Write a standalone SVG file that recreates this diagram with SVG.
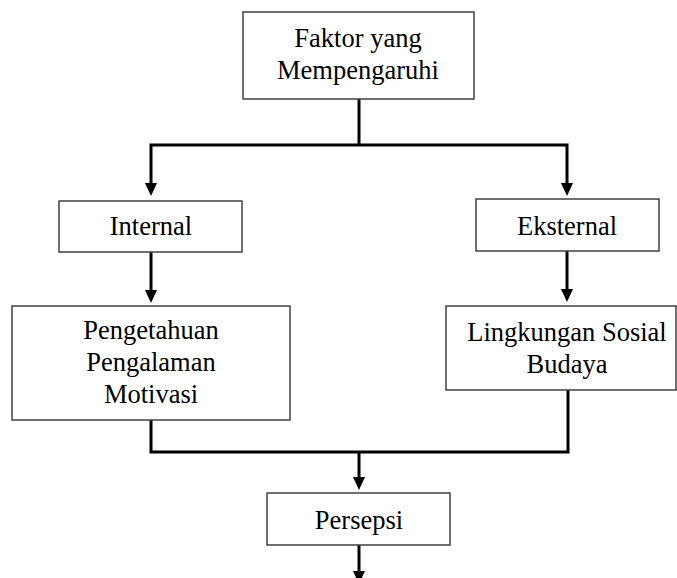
<svg xmlns="http://www.w3.org/2000/svg" width="677" height="578" viewBox="0 0 677 578">
<style>
.box{fill:#fff;stroke:#404040;stroke-width:1.5}
.t{font-size:26.5px;fill:#000;text-anchor:middle}
.c{fill:none;stroke:#000;stroke-width:3;stroke-linejoin:miter}
.a{marker-end:url(#ah)}
</style>
<defs>
<marker id="ah" markerUnits="userSpaceOnUse" markerWidth="14" markerHeight="13" refX="5" refY="6" orient="auto">
<path d="M0,0 L13,6 L0,12 z" fill="#000"/>
</marker>
</defs>
<rect width="677" height="578" fill="#fff"/>
<g id="connectors">
<path class="c" d="M359,99 V145"/>
<path class="c a" d="M359,145 H151 V188"/>
<path class="c a" d="M359,145 H567 V188"/>
<path class="c a" d="M151,252 V295"/>
<path class="c a" d="M567,251 V294"/>
<path class="c" d="M151,420 V452 H359"/>
<path class="c" d="M568,390 V452 H359"/>
<path class="c a" d="M359,452 V482"/>
<path class="c a" d="M359,545 V576"/>
</g>
<g font-family="Liberation Serif, Times New Roman, serif">
<g id="faktor">
<rect class="box" x="243" y="12" width="231" height="87"/>
<text class="t" x="358" y="47">Faktor yang</text>
<text class="t" x="358" y="79">Mempengaruhi</text>
</g>
<g id="internal">
<rect class="box" x="59" y="201" width="183" height="51"/>
<text class="t" x="151" y="235">Internal</text>
</g>
<g id="eksternal">
<rect class="box" x="476" y="199" width="183" height="52"/>
<text class="t" x="567" y="235">Eksternal</text>
</g>
<g id="faktor-internal">
<rect class="box" x="12" y="306" width="278" height="114"/>
<text class="t" x="151" y="339">Pengetahuan</text>
<text class="t" x="151" y="371">Pengalaman</text>
<text class="t" x="151" y="403">Motivasi</text>
</g>
<g id="faktor-eksternal">
<rect class="box" x="446" y="306" width="230" height="84"/>
<text class="t" x="567" y="341">Lingkungan Sosial</text>
<text class="t" x="567" y="373">Budaya</text>
</g>
<g id="persepsi">
<rect class="box" x="267" y="493" width="183" height="52"/>
<text class="t" x="359" y="529">Persepsi</text>
</g>
</g>
</svg>
